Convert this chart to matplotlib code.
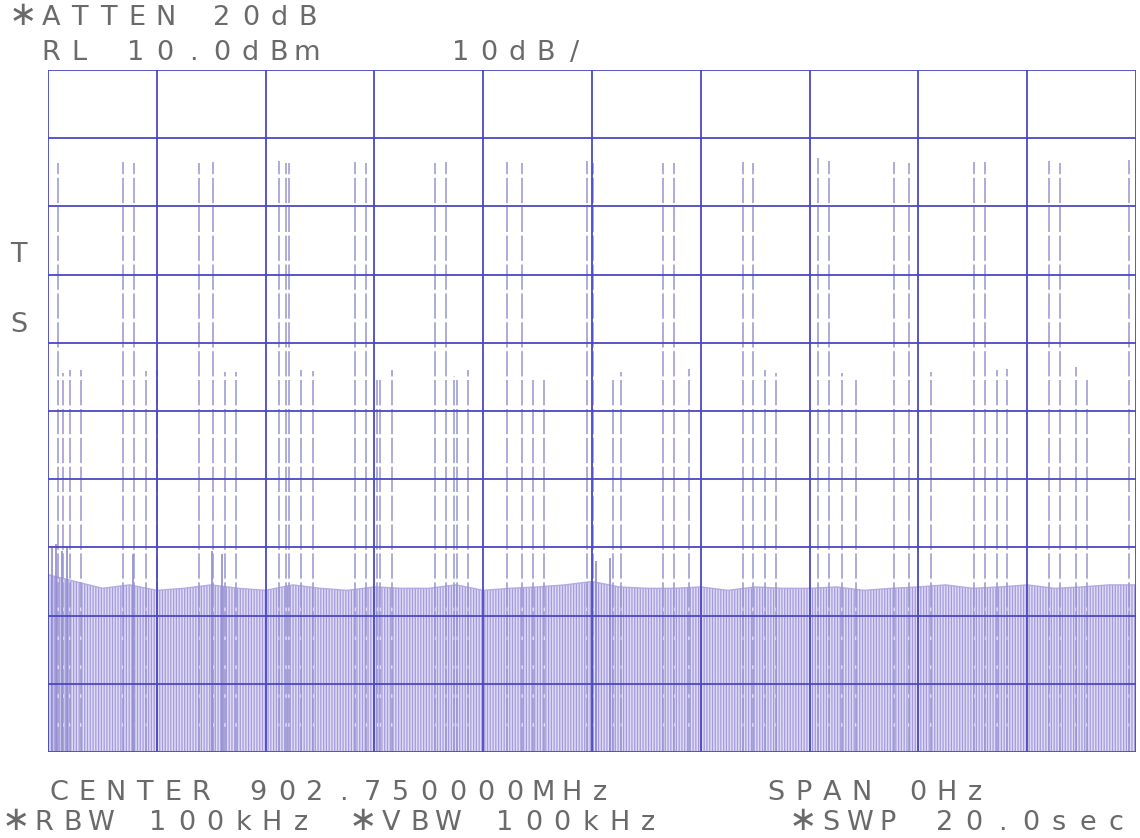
import matplotlib
matplotlib.use("Agg")
import matplotlib.pyplot as plt

W, H = 1140, 838

# ---- data (time in s over 20 s sweep, level in dBm) ----
tall_times = [0.18, 1.38, 1.58, 2.78, 3.03, 4.25, 4.38, 4.43, 5.64, 5.85,
              7.11, 7.31, 8.44, 8.71, 9.91, 10.02, 11.31, 11.51, 12.78, 12.96,
              14.15, 14.36, 15.55, 15.83, 17.02, 17.22, 18.40, 18.60, 19.87]
tall_levels = [-3.6, -3.5, -3.6, -3.6, -3.5, -3.4, -3.6, -3.7, -3.5, -3.6,
               -3.6, -3.5, -3.5, -3.6, -3.4, -3.6, -3.6, -3.6, -3.5, -3.6,
               -2.9, -3.3, -3.5, -3.6, -3.5, -3.5, -3.4, -3.6, -3.2]

short_times = [0.28, 0.40, 0.61, 1.80, 2.00, 3.25, 3.46, 4.65, 4.87, 6.05,
               6.10, 6.32, 7.46, 7.52, 7.72, 8.92, 9.12, 10.39, 10.53, 11.78,
               13.18, 13.38, 14.60, 14.85, 16.23, 17.44, 17.63, 18.90, 19.10]
short_levels = [-34.5, -34.0, -34.0, -34.2, -34.0, -34.3, -34.3, -34.0, -34.2, -35.0,
                -35.0, -34.0, -34.8, -35.0, -34.0, -35.0, -35.0, -35.0, -34.3, -33.8,
                -34.0, -34.5, -34.5, -35.0, -34.3, -34.0, -33.8, -33.6, -35.0]

mid_times = [0.07, 0.15, 0.26, 0.35, 1.56, 3.01, 3.19, 10.07, 10.33]
mid_levels = [-60.0, -59.5, -60.5, -60.0, -61.0, -60.5, -61.0, -62.0, -61.5]

noise_times = [0.0, 0.5, 1.0, 1.5, 2.0, 2.5, 3.0, 3.5, 4.0, 4.5,
               5.0, 5.5, 6.0, 6.5, 7.0, 7.5, 8.0, 8.5, 9.0, 9.5,
               10.0, 10.5, 11.0, 11.5, 12.0, 12.5, 13.0, 13.5, 14.0, 14.5,
               15.0, 15.5, 16.0, 16.5, 17.0, 17.5, 18.0, 18.5, 19.0, 19.5, 20.0]
noise_top = [-64.0, -65.0, -66.0, -65.5, -66.3, -66.0, -65.5, -66.0, -66.3, -65.5,
             -66.0, -66.3, -65.8, -66.0, -66.0, -65.5, -66.3, -66.0, -65.8, -65.5,
             -65.0, -65.8, -66.0, -66.0, -65.8, -66.3, -65.8, -66.0, -66.0, -65.8,
             -66.3, -66.0, -65.8, -65.5, -66.0, -65.8, -65.5, -66.0, -65.8, -65.5, -65.5]

header_lines = ["\u2217ATTEN 20dB", "RL 10.0dBm", "10dB/"]
side_marks = ["T", "S"]
footer_lines = ["CENTER 902.750000MHz", "SPAN 0Hz", "\u2217RBW 100kHz",
                "\u2217VBW 100kHz", "\u2217SWP 20.0sec"]

ref_level = 10.0
db_per_div = 10.0
sweep_time = 20.0

# ---- figure ----
fig = plt.figure(figsize=(W / 100, H / 100), dpi=100)
fig.patch.set_facecolor("white")
ax = fig.add_axes([48 / W, 1 - 752 / H, 1088 / W, 682 / H])
ax.set_xlim(0, sweep_time)
ax.set_ylim(ref_level - 10 * db_per_div, ref_level)
bottom = ref_level - 10 * db_per_div

grid_col = "#4b48c4"
for i in range(11):
    ax.axvline(i * sweep_time / 10, color=grid_col, lw=1.3, zorder=5)
    ax.axhline(ref_level - i * db_per_div, color=grid_col, lw=1.3, zorder=5)
for s in ax.spines.values():
    s.set_visible(False)
ax.set_xticks([])
ax.set_yticks([])

# noise floor (dense trace)
plt.rcParams["hatch.linewidth"] = 0.9
ax.fill_between(noise_times, bottom, noise_top, facecolor="#e0dbf6",
                edgecolor="#a39bdc", hatch="||||||", linewidth=0, zorder=2)
ax.plot(noise_times, noise_top, color="#b3abe3", lw=1.0, zorder=2)

# spikes
spike_col = "#9896d0"
ax.vlines(mid_times, bottom, mid_levels, colors="#8f8ad2", lw=1.2, zorder=3)
ax.vlines(short_times, bottom, short_levels, colors=spike_col, lw=1.3,
          linestyles=[(0, (14, 2))], alpha=0.85, zorder=3)
ax.vlines(tall_times, bottom, tall_levels, colors=spike_col, lw=1.3,
          linestyles=[(0, (14, 2))], alpha=0.85, zorder=3)

# ---- plotter-style text with fixed character pitch ----
txt_col = "#6a6a6a"
PITCH = 28.5
FS = 19.5


def plot_text(x_px, y_px, s):
    for i, ch in enumerate(s):
        if ch == " ":
            continue
        xc = (x_px + i * PITCH + 10.5) / W
        fig.text(xc, 1 - y_px / H, ch, ha="center", va="baseline",
                 fontsize=FS * (1.25 if ch == "\u2217" else 1.0),
                 color=txt_col, family="DejaVu Sans")


plot_text(12, 25, header_lines[0])
plot_text(40, 60, header_lines[1])
plot_text(450, 60, header_lines[2])
plot_text(8, 262, side_marks[0])
plot_text(8, 332, side_marks[1])
plot_text(48, 800, footer_lines[0])
plot_text(765, 800, footer_lines[1])
plot_text(5, 830, footer_lines[2])
plot_text(352, 830, footer_lines[3])
plot_text(792, 830, footer_lines[4])

fig.savefig("out.png", dpi=100)
